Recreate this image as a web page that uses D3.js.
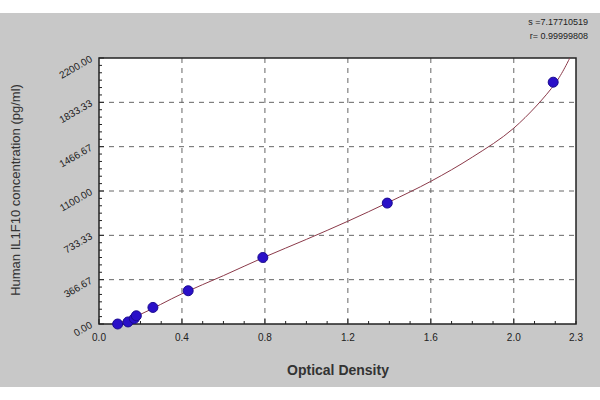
<!DOCTYPE html><html><head><script src="https://cdn.jsdelivr.net/npm/d3@7"></script>
<style>body{margin:0;background:#fff}</style></head><body><svg id="c" width="600" height="400"></svg><script>
const xTicks=[0,0.4,0.8,1.2,1.6,2.0,2.3];
const xTickLabels=["0.0","0.4","0.8","1.2","1.6","2.0","2.3"];
const yTicks=[0,366.67,733.33,1100,1466.67,1833.33,2200];
const yTickLabels=["0.00","366.67","733.33","1100.00","1466.67","1833.33","2200.00"];
const pointOD=[0.09,0.14,0.17,0.18,0.26,0.43,0.79,1.39,2.19];
const pointConc=[0,17,45,68,137,275,550,1000,2000];
const curveOD=[0.08,0.2,0.4,0.6,0.8,1.0,1.2,1.4,1.6,1.8,2.0,2.2,2.27];
const curveConc=[0,80,250,400,555,700,850,1010,1180,1380,1620,1990,2200];
const svg=d3.select("#c");
svg.append("rect").attr("x",0).attr("y",13).attr("width",600).attr("height",374).attr("fill","#c8c8c8");
const L=99,R=576,T=58,B=324;
const sx=d3.scaleLinear().domain([0,2.3]).range([L,R]);
const sy=d3.scaleLinear().domain([0,2200]).range([B,T]);
svg.append("rect").attr("x",L).attr("y",T).attr("width",R-L).attr("height",B-T).attr("fill","#fff");
const grid=svg.append("g").attr("stroke","#666").attr("stroke-dasharray","5,5").attr("stroke-width",1);
xTicks.slice(1,-1).forEach(v=>grid.append("line").attr("x1",sx(v)).attr("x2",sx(v)).attr("y1",T).attr("y2",B));
yTicks.slice(1,-1).forEach(v=>grid.append("line").attr("y1",sy(v)).attr("y2",sy(v)).attr("x1",L).attr("x2",R));
svg.append("rect").attr("x",L).attr("y",T).attr("width",R-L).attr("height",B-T).attr("fill","none").attr("stroke","#222").attr("stroke-width",1.5);
// minor ticks
const tk=svg.append("g").attr("stroke","#222");
d3.range(0,2.31,0.1).forEach(v=>tk.append("line").attr("x1",sx(v)).attr("x2",sx(v)).attr("y1",B).attr("y2",B-((Math.round(v*10)%4===0)?5:3)));
d3.range(0,2201,2200/36).forEach((v,i)=>tk.append("line").attr("y1",sy(v)).attr("y2",sy(v)).attr("x1",L).attr("x2",L+(i%6===0?5:3)));
const ft="Liberation Sans, Arial, sans-serif";
xTicks.forEach((v,i)=>svg.append("text").attr("x",Math.min(sx(v),R+6)).attr("y",B+17).attr("text-anchor","middle").attr("font-family",ft).attr("font-size",10).attr("fill","#222").text(xTickLabels[i]));
yTicks.forEach((v,i)=>svg.append("text").attr("transform",`translate(${L-6},${sy(v)+3}) rotate(-30)`).attr("text-anchor","end").attr("font-family",ft).attr("font-size",10).attr("fill","#222").text(yTickLabels[i]));
const line=d3.line().x((d,i)=>sx(curveOD[i])).y((d,i)=>sy(curveConc[i])).curve(d3.curveCatmullRom);
svg.append("path").datum(curveOD).attr("d",line).attr("fill","none").attr("stroke","#8b3a4a").attr("stroke-width",1);
svg.append("g").selectAll("circle").data(pointOD).join("circle").attr("cx",d=>sx(d)).attr("cy",(d,i)=>sy(pointConc[i])).attr("r",5).attr("fill","#2a10c8").attr("stroke","#1a0a90");
svg.append("text").attr("x",338).attr("y",375).attr("text-anchor","middle").attr("font-family",ft).attr("font-size",14).attr("font-weight","bold").attr("fill","#333").text("Optical Density");
svg.append("text").attr("transform","translate(20,190) rotate(-90)").attr("text-anchor","middle").attr("font-family",ft).attr("font-size",13).attr("fill","#333").text("Human IL1F10 concentration (pg/ml)");
svg.append("text").attr("x",588).attr("y",25).attr("text-anchor","end").attr("font-family",ft).attr("font-size",9).attr("fill","#222").text("s =7.17710519");
svg.append("text").attr("x",588).attr("y",39).attr("text-anchor","end").attr("font-family",ft).attr("font-size",9).attr("fill","#222").text("r= 0.99999808");
</script></body></html>
